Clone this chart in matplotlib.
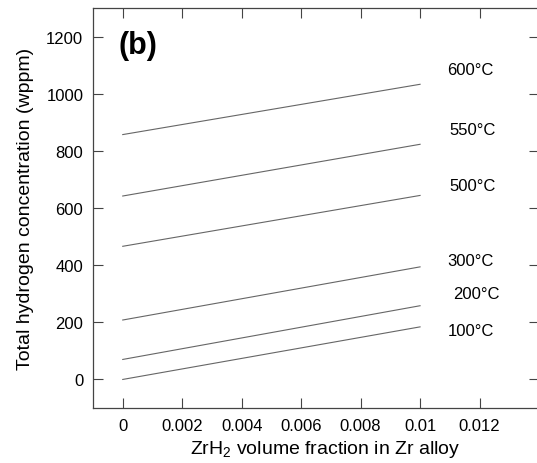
import matplotlib
matplotlib.use("Agg")
import matplotlib.pyplot as plt

# ZrH2 volume fraction end points of each isotherm
frac = [0.0, 0.01]
temps = ["100°C", "200°C", "300°C", "500°C", "550°C", "600°C"]
conc_start = [0, 70, 208, 466, 642, 857]
conc_end = [184, 258, 394, 644, 823, 1033]
# label anchor (left, vertical centre) per curve
label_x = [0.01094, 0.01110, 0.01092, 0.01100, 0.01100, 0.01092]
label_y = [173, 300, 415, 680, 876, 1086]

xticks = [0, 0.002, 0.004, 0.006, 0.008, 0.01, 0.012]
xtick_labels = ["0", "0.002", "0.004", "0.006", "0.008", "0.01", "0.012"]
yticks = [0, 200, 400, 600, 800, 1000, 1200]

plt.rcParams["font.family"] = ["Liberation Sans", "DejaVu Sans"]
plt.rcParams["mathtext.fontset"] = "custom"
plt.rcParams["mathtext.rm"] = "Liberation Sans"
spine_col = "#444444"

fig = plt.figure(figsize=(5.37, 4.64), dpi=100)
ax = fig.add_axes([0.1732, 0.1185, 0.8305, 0.8621])

for t, y0, y1, lx, ly in zip(temps, conc_start, conc_end, label_x, label_y):
    ax.plot(frac, [y0, y1], color="#666666", lw=0.8)
    ax.text(lx, ly, t, fontsize=12, va="center", ha="left")

ax.set_xlim(-0.001, 0.014)
ax.set_ylim(-100, 1300)
ax.set_xticks(xticks)
ax.set_xticklabels(xtick_labels)
ax.set_yticks(yticks)
ax.tick_params(direction="in", length=7, width=0.8, color=spine_col,
               labelsize=12, top=True, right=True, pad=7)
for s in ax.spines.values():
    s.set_color(spine_col)
    s.set_linewidth(0.9)

ax.set_xlabel(r"ZrH$_\mathrm{2}$ volume fraction in Zr alloy", fontsize=14)
ax.xaxis.set_label_coords(0.52, -0.076)
ax.set_ylabel("Total hydrogen concentration (wppm)", fontsize=14, labelpad=9)
ax.text(0.058, 0.908, "(b)", transform=ax.transAxes, fontsize=22,
        fontweight="bold", va="center", ha="left")

fig.savefig("out.png", dpi=100)
